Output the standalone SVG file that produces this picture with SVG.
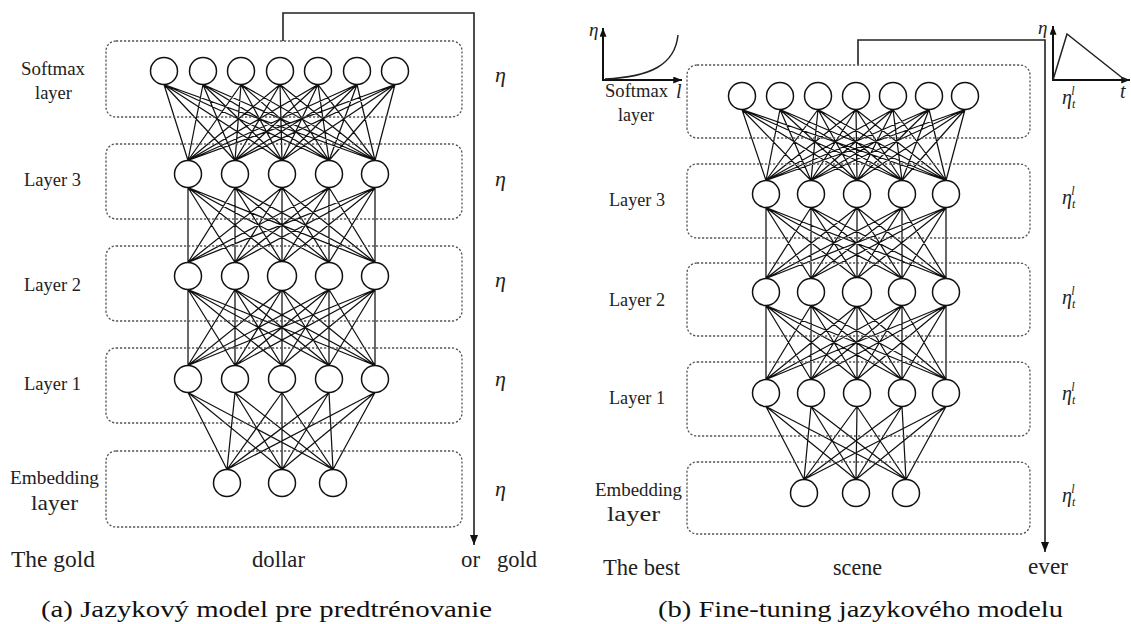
<svg xmlns="http://www.w3.org/2000/svg" width="1131" height="624" viewBox="0 0 1131 624">
<defs>
<style>
.band{fill:none;stroke:#555;stroke-width:1.3;stroke-dasharray:2.2 1.8}
.neuron{fill:#fff;stroke:#111;stroke-width:1.5}
.edge{fill:none;stroke:#111;stroke-width:1.25;stroke-linejoin:round}
.flow{fill:none;stroke:#222;stroke-width:1.6}
.axis{fill:none;stroke:#111;stroke-width:2}
.lbl{fill:#222}
.eta{font-style:italic;fill:#222}
.cap{fill:#111;font-size:24px}
</style>
<marker id="arr" viewBox="0 0 10 8" refX="10" refY="4" markerWidth="10" markerHeight="8" markerUnits="userSpaceOnUse" orient="auto"><path d="M0 0L10 4L0 8z" fill="#111"/></marker>
<marker id="arrs" viewBox="0 0 10 8" refX="10" refY="4" markerWidth="9" markerHeight="7" markerUnits="userSpaceOnUse" orient="auto"><path d="M0 0L10 4L0 8z" fill="#111"/></marker>
</defs>
<rect width="1131" height="624" fill="#fff"/>

<!-- connectors -->
<g id="connectors">
<g id="a-edges" class="edge">
<path d="M164 84.5L188 160.5L203 84.5M241 84.5L188 160.5L280 84.5M318 84.5L188 160.5L357 84.5M395 84.5L188 160.5M164 84.5L235 160.5L203 84.5M241 84.5L235 160.5L280 84.5M318 84.5L235 160.5L357 84.5M395 84.5L235 160.5M164 84.5L282 160.5L203 84.5M241 84.5L282 160.5L280 84.5M318 84.5L282 160.5L357 84.5M395 84.5L282 160.5M164 84.5L329 160.5L203 84.5M241 84.5L329 160.5L280 84.5M318 84.5L329 160.5L357 84.5M395 84.5L329 160.5M164 84.5L375 160.5L203 84.5M241 84.5L375 160.5L280 84.5M318 84.5L375 160.5L357 84.5M395 84.5L375 160.5"/>
<path d="M188 187.5L188 262.5L235 187.5M282 187.5L188 262.5L329 187.5M375 187.5L188 262.5M188 187.5L235 262.5L235 187.5M282 187.5L235 262.5L329 187.5M375 187.5L235 262.5M188 187.5L282 262.5L235 187.5M282 187.5L282 262.5L329 187.5M375 187.5L282 262.5M188 187.5L329 262.5L235 187.5M282 187.5L329 262.5L329 187.5M375 187.5L329 262.5M188 187.5L375 262.5L235 187.5M282 187.5L375 262.5L329 187.5M375 187.5L375 262.5"/>
<path d="M188 289.5L188 365.5L235 289.5M282 289.5L188 365.5L329 289.5M375 289.5L188 365.5M188 289.5L235 365.5L235 289.5M282 289.5L235 365.5L329 289.5M375 289.5L235 365.5M188 289.5L282 365.5L235 289.5M282 289.5L282 365.5L329 289.5M375 289.5L282 365.5M188 289.5L329 365.5L235 289.5M282 289.5L329 365.5L329 289.5M375 289.5L329 365.5M188 289.5L375 365.5L235 289.5M282 289.5L375 365.5L329 289.5M375 289.5L375 365.5"/>
<path d="M188 392.5L227 469.5L235 392.5M282 392.5L227 469.5L329 392.5M375 392.5L227 469.5M188 392.5L282 469.5L235 392.5M282 392.5L282 469.5L329 392.5M375 392.5L282 469.5M188 392.5L333 469.5L235 392.5M282 392.5L333 469.5L329 392.5M375 392.5L333 469.5"/>
</g>
<g id="b-edges" class="edge">
<path d="M742 109.5L766 180.5L780 109.5M818 109.5L766 180.5L856 109.5M893 109.5L766 180.5L929 109.5M965 109.5L766 180.5M742 109.5L811 180.5L780 109.5M818 109.5L811 180.5L856 109.5M893 109.5L811 180.5L929 109.5M965 109.5L811 180.5M742 109.5L857 180.5L780 109.5M818 109.5L857 180.5L856 109.5M893 109.5L857 180.5L929 109.5M965 109.5L857 180.5M742 109.5L902 180.5L780 109.5M818 109.5L902 180.5L856 109.5M893 109.5L902 180.5L929 109.5M965 109.5L902 180.5M742 109.5L946 180.5L780 109.5M818 109.5L946 180.5L856 109.5M893 109.5L946 180.5L929 109.5M965 109.5L946 180.5"/>
<path d="M766 207.5L766 278.5L811 207.5M857 207.5L766 278.5L902 207.5M946 207.5L766 278.5M766 207.5L811 278.5L811 207.5M857 207.5L811 278.5L902 207.5M946 207.5L811 278.5M766 207.5L857 278.5L811 207.5M857 207.5L857 278.5L902 207.5M946 207.5L857 278.5M766 207.5L902 278.5L811 207.5M857 207.5L902 278.5L902 207.5M946 207.5L902 278.5M766 207.5L946 278.5L811 207.5M857 207.5L946 278.5L902 207.5M946 207.5L946 278.5"/>
<path d="M766 305.5L766 379.5L811 305.5M857 305.5L766 379.5L902 305.5M946 305.5L766 379.5M766 305.5L811 379.5L811 305.5M857 305.5L811 379.5L902 305.5M946 305.5L811 379.5M766 305.5L857 379.5L811 305.5M857 305.5L857 379.5L902 305.5M946 305.5L857 379.5M766 305.5L902 379.5L811 305.5M857 305.5L902 379.5L902 305.5M946 305.5L902 379.5M766 305.5L946 379.5L811 305.5M857 305.5L946 379.5L902 305.5M946 305.5L946 379.5"/>
<path d="M766 406.5L804 479.5L811 406.5M857 406.5L804 479.5L902 406.5M946 406.5L804 479.5M766 406.5L856 479.5L811 406.5M857 406.5L856 479.5L902 406.5M946 406.5L856 479.5M766 406.5L906 479.5L811 406.5M857 406.5L906 479.5L902 406.5M946 406.5L906 479.5"/>
</g>
<path id="a-flow" class="flow" d="M283 41V13H474V545" marker-end="url(#arr)"/>
<path id="b-flow" class="flow" d="M858 65V40H1045V552" marker-end="url(#arr)"/>
</g>

<g font-family="Liberation Serif, Times New Roman, serif">
<!-- panel (a) -->
<g id="panel-a">
<g id="a-softmax-layer">
<rect class="band" x="106" y="41" width="356" height="76" rx="10"/>
<text class="lbl" x="21" y="75" font-size="19" textLength="64" lengthAdjust="spacingAndGlyphs">Softmax</text>
<text class="lbl" x="35" y="99" font-size="19" textLength="37" lengthAdjust="spacingAndGlyphs">layer</text>
<text class="eta" x="495" y="82" font-size="22">η</text>
</g>
<g id="a-layer3">
<rect class="band" x="106" y="144" width="356" height="75" rx="10"/>
<text class="lbl" x="24" y="186" font-size="18.5" textLength="57" lengthAdjust="spacingAndGlyphs">Layer 3</text>
<text class="eta" x="495" y="186" font-size="22">η</text>
</g>
<g id="a-layer2">
<rect class="band" x="106" y="246" width="356" height="75" rx="10"/>
<text class="lbl" x="24" y="291" font-size="18.5" textLength="57" lengthAdjust="spacingAndGlyphs">Layer 2</text>
<text class="eta" x="495" y="287" font-size="22">η</text>
</g>
<g id="a-layer1">
<rect class="band" x="106" y="348" width="356" height="75" rx="10"/>
<text class="lbl" x="24" y="390" font-size="18.5" textLength="57" lengthAdjust="spacingAndGlyphs">Layer 1</text>
<text class="eta" x="495" y="386" font-size="22">η</text>
</g>
<g id="a-embedding-layer">
<rect class="band" x="106" y="451" width="356" height="76" rx="10"/>
<text class="lbl" x="10" y="484" font-size="19" textLength="89" lengthAdjust="spacingAndGlyphs">Embedding</text>
<text class="lbl" x="31" y="510" font-size="22" textLength="47" lengthAdjust="spacingAndGlyphs">layer</text>
<text class="eta" x="495" y="496" font-size="22">η</text>
</g>
<g id="a-s1"><circle class="neuron" cx="164" cy="71" r="13.5"/></g>
<g id="a-s2"><circle class="neuron" cx="203" cy="71" r="13.5"/></g>
<g id="a-s3"><circle class="neuron" cx="241" cy="71" r="13.5"/></g>
<g id="a-s4"><circle class="neuron" cx="280" cy="71" r="13.5"/></g>
<g id="a-s5"><circle class="neuron" cx="318" cy="71" r="13.5"/></g>
<g id="a-s6"><circle class="neuron" cx="357" cy="71" r="13.5"/></g>
<g id="a-s7"><circle class="neuron" cx="395" cy="71" r="13.5"/></g>
<g id="a-l3-1"><circle class="neuron" cx="188" cy="174" r="13.5"/></g>
<g id="a-l3-2"><circle class="neuron" cx="235" cy="174" r="13.5"/></g>
<g id="a-l3-3"><circle class="neuron" cx="282" cy="174" r="13.5"/></g>
<g id="a-l3-4"><circle class="neuron" cx="329" cy="174" r="13.5"/></g>
<g id="a-l3-5"><circle class="neuron" cx="375" cy="174" r="13.5"/></g>
<g id="a-l2-1"><circle class="neuron" cx="188" cy="276" r="13.5"/></g>
<g id="a-l2-2"><circle class="neuron" cx="235" cy="276" r="13.5"/></g>
<g id="a-l2-3"><circle class="neuron" cx="282" cy="276" r="14.5"/></g>
<g id="a-l2-4"><circle class="neuron" cx="329" cy="276" r="13.5"/></g>
<g id="a-l2-5"><circle class="neuron" cx="375" cy="276" r="13.5"/></g>
<g id="a-l1-1"><circle class="neuron" cx="188" cy="379" r="13.5"/></g>
<g id="a-l1-2"><circle class="neuron" cx="235" cy="379" r="13.5"/></g>
<g id="a-l1-3"><circle class="neuron" cx="282" cy="379" r="13.5"/></g>
<g id="a-l1-4"><circle class="neuron" cx="329" cy="379" r="13.5"/></g>
<g id="a-l1-5"><circle class="neuron" cx="375" cy="379" r="13.5"/></g>
<g id="a-e1"><circle class="neuron" cx="227" cy="483" r="13.5"/></g>
<g id="a-e2"><circle class="neuron" cx="282" cy="483" r="13.5"/></g>
<g id="a-e3"><circle class="neuron" cx="333" cy="483" r="13.5"/></g>
<g id="a-words">
<text class="lbl" x="11" y="567" font-size="23" textLength="84" lengthAdjust="spacingAndGlyphs">The gold</text>
<text class="lbl" x="252" y="567" font-size="23" textLength="53" lengthAdjust="spacingAndGlyphs">dollar</text>
<text class="lbl" x="461" y="567" font-size="23" textLength="19" lengthAdjust="spacingAndGlyphs">or</text>
<text class="lbl" x="497" y="567" font-size="23" textLength="40" lengthAdjust="spacingAndGlyphs">gold</text>
</g>
<text id="caption-a" class="cap" x="41" y="617" textLength="451" lengthAdjust="spacingAndGlyphs">(a) Jazykový model pre predtrénovanie</text>
</g>

<!-- panel (b) -->
<g id="panel-b">
<g id="b-lr-graph">
<path class="axis" d="M603 80V28" marker-end="url(#arrs)"/>
<path class="axis" d="M602 80H682" marker-end="url(#arrs)"/>
<path d="M605 79C650 77 675 65 678 35" fill="none" stroke="#222" stroke-width="1.5"/>
<text class="eta" x="589" y="36" font-size="19">η</text>
<text class="eta" x="676" y="98" font-size="20">l</text>
</g>
<g id="b-stlr-graph">
<path class="axis" d="M1053 80V26" marker-end="url(#arrs)"/>
<path class="axis" d="M1052 80H1130" marker-end="url(#arrs)"/>
<path d="M1053 80L1067 34L1125 80" fill="none" stroke="#222" stroke-width="1.5"/>
<text class="eta" x="1038" y="34" font-size="19">η</text>
<text class="eta" x="1120" y="98" font-size="20">t</text>
</g>
<g id="b-softmax-layer">
<rect class="band" x="687" y="65" width="343" height="73" rx="10"/>
<text class="lbl" x="605" y="97" font-size="19" textLength="63" lengthAdjust="spacingAndGlyphs">Softmax</text>
<text class="lbl" x="618" y="121" font-size="19" textLength="36" lengthAdjust="spacingAndGlyphs">layer</text>
<text class="eta" x="1062" y="104" font-size="20">η<tspan font-size="12" dy="4">t</tspan><tspan font-size="12" dx="-4" dy="-13">l</tspan></text>
</g>
<g id="b-layer3">
<rect class="band" x="687" y="164" width="343" height="74" rx="10"/>
<text class="lbl" x="609" y="206" font-size="18.5" textLength="56" lengthAdjust="spacingAndGlyphs">Layer 3</text>
<text class="eta" x="1062" y="204" font-size="20">η<tspan font-size="12" dy="4">t</tspan><tspan font-size="12" dx="-4" dy="-13">l</tspan></text>
</g>
<g id="b-layer2">
<rect class="band" x="687" y="263" width="343" height="73" rx="10"/>
<text class="lbl" x="609" y="306" font-size="18.5" textLength="56" lengthAdjust="spacingAndGlyphs">Layer 2</text>
<text class="eta" x="1062" y="304" font-size="20">η<tspan font-size="12" dy="4">t</tspan><tspan font-size="12" dx="-4" dy="-13">l</tspan></text>
</g>
<g id="b-layer1">
<rect class="band" x="687" y="362" width="343" height="74" rx="10"/>
<text class="lbl" x="609" y="404" font-size="18.5" textLength="56" lengthAdjust="spacingAndGlyphs">Layer 1</text>
<text class="eta" x="1062" y="400" font-size="20">η<tspan font-size="12" dy="4">t</tspan><tspan font-size="12" dx="-4" dy="-13">l</tspan></text>
</g>
<g id="b-embedding-layer">
<rect class="band" x="687" y="462" width="343" height="72" rx="10"/>
<text class="lbl" x="595" y="496" font-size="19" textLength="87" lengthAdjust="spacingAndGlyphs">Embedding</text>
<text class="lbl" x="607" y="521" font-size="20" textLength="53" lengthAdjust="spacingAndGlyphs">layer</text>
<text class="eta" x="1062" y="502" font-size="20">η<tspan font-size="12" dy="4">t</tspan><tspan font-size="12" dx="-4" dy="-13">l</tspan></text>
</g>
<g id="b-s1"><circle class="neuron" cx="742" cy="96" r="13.5"/></g>
<g id="b-s2"><circle class="neuron" cx="780" cy="96" r="13.5"/></g>
<g id="b-s3"><circle class="neuron" cx="818" cy="96" r="13.5"/></g>
<g id="b-s4"><circle class="neuron" cx="856" cy="96" r="13.5"/></g>
<g id="b-s5"><circle class="neuron" cx="893" cy="96" r="13.5"/></g>
<g id="b-s6"><circle class="neuron" cx="929" cy="96" r="13.5"/></g>
<g id="b-s7"><circle class="neuron" cx="965" cy="96" r="13.5"/></g>
<g id="b-l3-1"><circle class="neuron" cx="766" cy="194" r="13.5"/></g>
<g id="b-l3-2"><circle class="neuron" cx="811" cy="194" r="13.5"/></g>
<g id="b-l3-3"><circle class="neuron" cx="857" cy="194" r="13.5"/></g>
<g id="b-l3-4"><circle class="neuron" cx="902" cy="194" r="13.5"/></g>
<g id="b-l3-5"><circle class="neuron" cx="946" cy="194" r="13.5"/></g>
<g id="b-l2-1"><circle class="neuron" cx="766" cy="292" r="13.5"/></g>
<g id="b-l2-2"><circle class="neuron" cx="811" cy="292" r="13.5"/></g>
<g id="b-l2-3"><circle class="neuron" cx="857" cy="292" r="14.5"/></g>
<g id="b-l2-4"><circle class="neuron" cx="902" cy="292" r="13.5"/></g>
<g id="b-l2-5"><circle class="neuron" cx="946" cy="292" r="13.5"/></g>
<g id="b-l1-1"><circle class="neuron" cx="766" cy="393" r="13.5"/></g>
<g id="b-l1-2"><circle class="neuron" cx="811" cy="393" r="13.5"/></g>
<g id="b-l1-3"><circle class="neuron" cx="857" cy="393" r="13.5"/></g>
<g id="b-l1-4"><circle class="neuron" cx="902" cy="393" r="13.5"/></g>
<g id="b-l1-5"><circle class="neuron" cx="946" cy="393" r="13.5"/></g>
<g id="b-e1"><circle class="neuron" cx="804" cy="493" r="13.5"/></g>
<g id="b-e2"><circle class="neuron" cx="856" cy="493" r="13.5"/></g>
<g id="b-e3"><circle class="neuron" cx="906" cy="493" r="13.5"/></g>
<g id="b-words">
<text class="lbl" x="603" y="575" font-size="23" textLength="77" lengthAdjust="spacingAndGlyphs">The best</text>
<text class="lbl" x="833" y="575" font-size="23" textLength="49" lengthAdjust="spacingAndGlyphs">scene</text>
<text class="lbl" x="1028" y="574" font-size="23" textLength="40" lengthAdjust="spacingAndGlyphs">ever</text>
</g>
<text id="caption-b" class="cap" x="658" y="617" textLength="405" lengthAdjust="spacingAndGlyphs">(b) Fine-tuning jazykového modelu</text>
</g>
</g>
</svg>
